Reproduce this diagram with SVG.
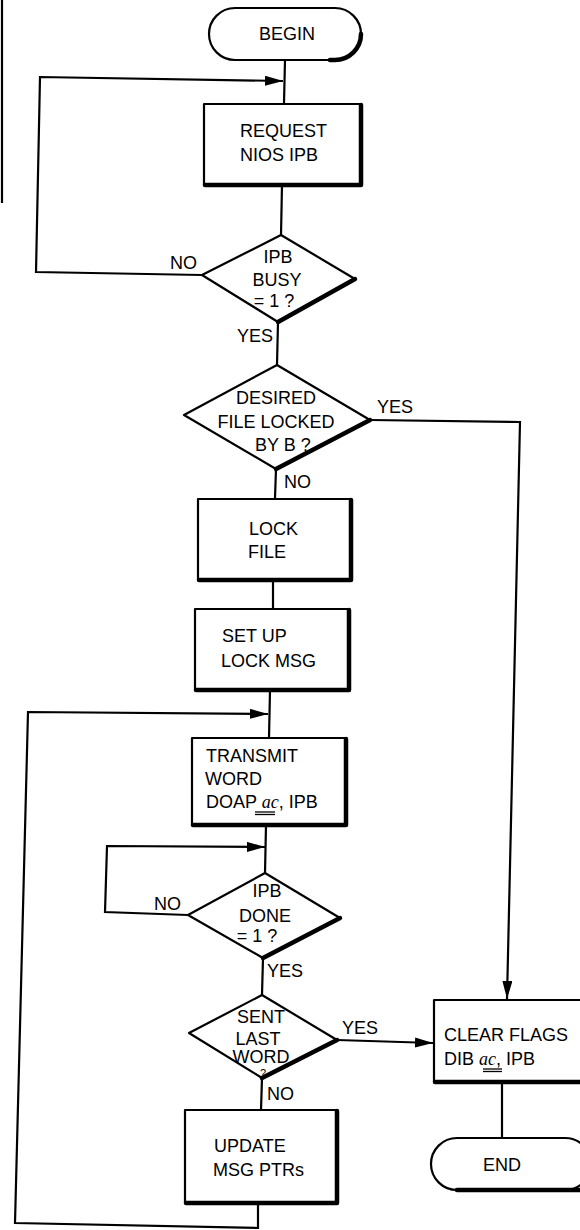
<svg xmlns="http://www.w3.org/2000/svg" width="580" height="1230" viewBox="0 0 580 1230">
<style>
.s{fill:#fff;stroke:#000;stroke-width:2.2;stroke-linejoin:round}
.sh{fill:none;stroke:#000;stroke-width:4.5;stroke-linecap:round;stroke-linejoin:round}
.c{fill:none;stroke:#000;stroke-width:2.2;stroke-linejoin:miter}
text{font-family:"Liberation Sans",Arial,sans-serif;font-size:18px;fill:#000}
.m{text-anchor:middle}
.it{font-family:"Liberation Serif","Times New Roman",serif;font-style:italic}
</style>
<defs>
<marker id="ah" markerUnits="userSpaceOnUse" markerWidth="20" markerHeight="12" refX="18" refY="5" orient="auto">
<path d="M0,0 L18,5 L0,10 Z" fill="#000"/>
</marker>
</defs>
<line x1="2" y1="0" x2="2" y2="203" class="c"/>
<g id="connectors">
<line x1="285" y1="60" x2="284" y2="103" class="c"/>
<polyline points="202,275 36,272 40,77 283,81" class="c" marker-end="url(#ah)"/>
<line x1="282" y1="185" x2="281" y2="235" class="c"/>
<line x1="278" y1="322" x2="277" y2="365" class="c"/>
<polyline points="370,420 520,422 507,999" class="c" marker-end="url(#ah)"/>
<line x1="276" y1="469" x2="275" y2="498" class="c"/>
<line x1="273" y1="580" x2="273" y2="609" class="c"/>
<line x1="270" y1="690" x2="269" y2="738" class="c"/>
<polyline points="258,1203 258,1228 15,1223 28,712 268,714" class="c" marker-end="url(#ah)"/>
<line x1="266" y1="825" x2="265" y2="873" class="c"/>
<polyline points="188,915 105,912 107,846 265,847" class="c" marker-end="url(#ah)"/>
<line x1="263" y1="958" x2="262" y2="995" class="c"/>
<line x1="337" y1="1040" x2="433" y2="1043" class="c" marker-end="url(#ah)"/>
<line x1="262" y1="1078" x2="261" y2="1110" class="c"/>
<line x1="502" y1="1082" x2="502" y2="1138" class="c"/>
</g>
<g id="begin">
<rect x="209" y="8" width="152" height="52" rx="26" class="s"/>
<path d="M330,60 L335,60 A26,26 0 0 0 361,34" class="sh"/>
<text x="287" y="40" class="m">BEGIN</text>
</g>
<g id="request">
<rect x="204" y="104" width="157" height="81" class="s"/>
<path d="M361,105 L361,185 L205,185" class="sh"/>
<text x="240" y="137">REQUEST</text>
<text x="240" y="161">NIOS IPB</text>
</g>
<g id="busy">
<polygon points="281,235 355,279 278,322 202,275" class="s"/>
<path d="M355,279 L278,322" class="sh"/>
<text x="278" y="263" class="m">IPB</text>
<text x="277" y="286" class="m">BUSY</text>
<text x="274" y="307" class="m">= 1 ?</text>
</g>
<g id="locked">
<polygon points="277,365 370,420 276,469 184,415" class="s"/>
<path d="M370,420 L276,469" class="sh"/>
<text x="276" y="404" class="m">DESIRED</text>
<text x="276" y="428" class="m">FILE LOCKED</text>
<text x="255" y="451">BY B ?</text>
</g>
<g id="lockfile">
<rect x="198" y="499" width="153" height="81" class="s"/>
<path d="M351,500 L351,580 L199,580" class="sh"/>
<text x="249" y="535">LOCK</text>
<text x="248" y="558">FILE</text>
</g>
<g id="setup">
<rect x="195" y="609" width="154" height="81" class="s"/>
<path d="M349,610 L349,690 L196,690" class="sh"/>
<text x="222" y="642">SET UP</text>
<text x="221" y="667">LOCK MSG</text>
</g>
<g id="transmit">
<rect x="192" y="738" width="154" height="87" class="s"/>
<path d="M346,739 L346,825 L193,825" class="sh"/>
<text x="206" y="762">TRANSMIT</text>
<text x="205" y="785">WORD</text>
<text x="206" y="808">DOAP <tspan class="it">ac</tspan>, IPB</text>
<line x1="255" y1="812" x2="275" y2="812" stroke="#000" stroke-width="1.3"/>
<line x1="255" y1="814.5" x2="275" y2="814.5" stroke="#000" stroke-width="1.3"/>
</g>
<g id="done">
<polygon points="265,873 340,918 263,958 188,915" class="s"/>
<path d="M340,918 L263,958" class="sh"/>
<text x="267" y="897" class="m">IPB</text>
<text x="265" y="922" class="m">DONE</text>
<text x="257" y="942" class="m">= 1 ?</text>
</g>
<g id="lastword">
<polygon points="262,995 337,1040 262,1078 189,1033" class="s"/>
<path d="M337,1040 L262,1078" class="sh"/>
<text x="261" y="1023" class="m">SENT</text>
<text x="258" y="1045" class="m">LAST</text>
<text x="261" y="1063" class="m">WORD</text>
<text x="263" y="1077" class="m" style="font-size:11px">?</text>
</g>
<g id="update">
<rect x="185" y="1110" width="152" height="93" class="s"/>
<path d="M337,1111 L337,1203 L186,1203" class="sh"/>
<text x="214" y="1152">UPDATE</text>
<text x="213" y="1176">MSG PTRs</text>
</g>
<g id="clear">
<rect x="434" y="1000" width="156" height="82" class="s"/>
<path d="M435,1082 L590,1082" class="sh"/>
<text x="444" y="1041">CLEAR FLAGS</text>
<text x="444" y="1065">DIB <tspan class="it">ac</tspan>, IPB</text>
<line x1="483" y1="1069" x2="502" y2="1069" stroke="#000" stroke-width="1.3"/>
<line x1="483" y1="1071.5" x2="502" y2="1071.5" stroke="#000" stroke-width="1.3"/>
</g>
<g id="end">
<rect x="431" y="1138" width="160" height="52" rx="26" class="s"/>
<path d="M457,1190 L590,1190" class="sh"/>
<text x="502" y="1171" class="m">END</text>
</g>
<g id="labels">
<text x="170" y="269">NO</text>
<text x="237" y="342">YES</text>
<text x="377" y="413">YES</text>
<text x="284" y="488">NO</text>
<text x="154" y="910">NO</text>
<text x="267" y="977">YES</text>
<text x="342" y="1034">YES</text>
<text x="267" y="1100">NO</text>
</g>
</svg>
